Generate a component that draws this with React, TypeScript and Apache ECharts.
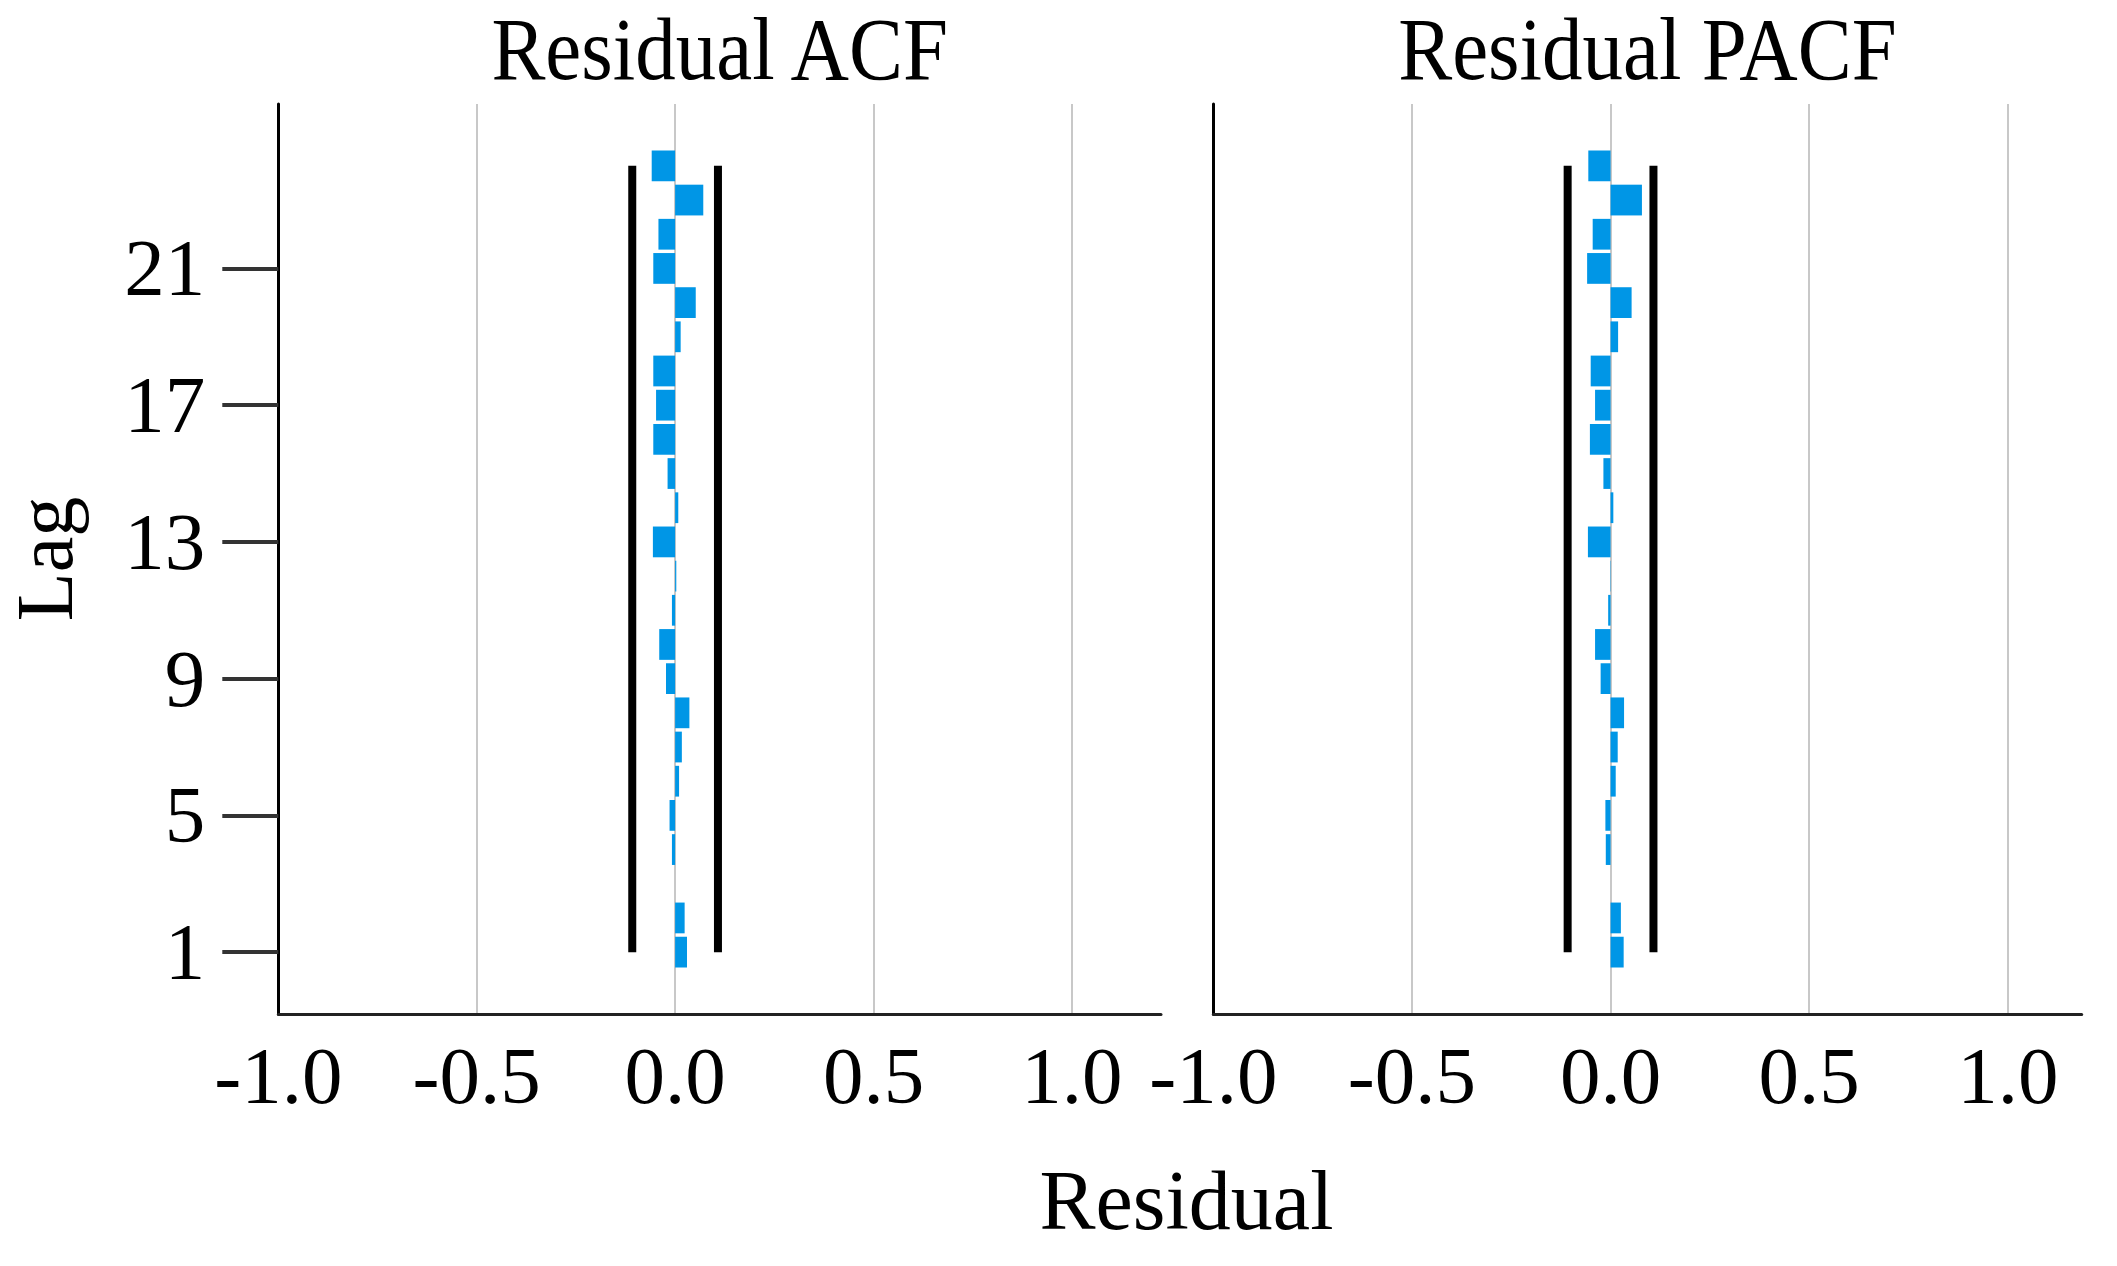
import React, { useEffect, useRef } from "react";
import * as echarts from "echarts";

const lags = [1, 2, 3, 4, 5, 6, 7, 8, 9, 10, 11, 12, 13, 14, 15, 16, 17, 18, 19, 20, 21, 22, 23, 24];
const acfValues = [0.030, 0.024, 0.0, -0.008, -0.014, 0.010, 0.017, 0.036, -0.023, -0.040, -0.008, 0.003, -0.056, 0.008, -0.019, -0.055, -0.048, -0.055, 0.014, 0.052, -0.055, -0.042, 0.071, -0.059];
const pacfValues = [0.033, 0.026, 0.0, -0.012, -0.013, 0.013, 0.018, 0.034, -0.025, -0.039, -0.006, -0.001, -0.057, 0.007, -0.018, -0.052, -0.039, -0.050, 0.019, 0.053, -0.059, -0.045, 0.079, -0.056];
const confLimit = 0.108;
const xTicks = [-1.0, -0.5, 0.0, 0.5, 1.0];
const yTicks = [1, 5, 9, 13, 17, 21];
const panelTitles = ["Residual ACF", "Residual PACF"];
const xName = "Residual";
const yName = "Lag";

const FONT = '"Liberation Serif", "Times New Roman", serif';

export default function App() {
  const ref = useRef<HTMLDivElement>(null);
  useEffect(() => {
    document.body.style.margin = "0";
    const chart = echarts.init(ref.current!, null, { renderer: "svg" });

    const grids = [
      { left: 278.3, top: 104, width: 882.7, height: 910 },
      { left: 1213.3, top: 104, width: 868.4, height: 910 },
    ];
    const xMax = [1.2245, 1.186];

    const xAxes = grids.map((g, i) => ({
      type: "value",
      gridIndex: i,
      min: -1,
      max: xMax[i],
      interval: 0.5,
      axisLine: { show: true, onZero: false, lineStyle: { color: "#222", width: 3 } },
      axisTick: { show: false, customValues: xTicks },
      axisLabel: {
        customValues: xTicks,
        formatter: (v: number) => v.toFixed(1),
        fontFamily: FONT,
        fontSize: 81,
        color: "#000",
        margin: 21,
      },
      splitLine: { show: true, lineStyle: { color: "#c8c8c8", width: 2 } },
    }));

    const yAxes = grids.map((g, i) => ({
      type: "value",
      gridIndex: i,
      min: -0.81,
      max: 25.81,
      axisLine: { show: true, onZero: false, lineStyle: { color: "#000", width: 3 } },
      axisTick: {
        show: i === 0,
        customValues: yTicks,
        length: 56,
        lineStyle: { color: "#333", width: 4 },
      },
      axisLabel: {
        show: i === 0,
        customValues: yTicks,
        fontFamily: FONT,
        fontSize: 81,
        color: "#000",
        margin: 73,
        padding: [13, 0, 0, 0],
      },
      splitLine: { show: false },
    }));

    const renderBar = (params: any, api: any) => {
      const v = api.value(0);
      const lag = api.value(1);
      const p0 = api.coord([0, lag]);
      const p1 = api.coord([v, lag]);
      const h = api.size([0, 1])[1] * 0.9;
      return {
        type: "rect",
        shape: {
          x: Math.min(p0[0], p1[0]),
          y: p0[1] - h / 2,
          width: Math.abs(p1[0] - p0[0]),
          height: h,
        },
        style: { fill: "#0096e6" },
      };
    };

    const series: any[] = [];
    [acfValues, pacfValues].forEach((vals, i) => {
      series.push({
        type: "custom",
        xAxisIndex: i,
        yAxisIndex: i,
        renderItem: renderBar,
        encode: { x: 0, y: 1 },
        data: vals.map((v, k) => [v, lags[k]]),
        z: 3,
      });
      [-confLimit, confLimit].forEach((c) => {
        series.push({
          type: "line",
          xAxisIndex: i,
          yAxisIndex: i,
          symbol: "none",
          lineStyle: { color: "#000", width: 8, cap: "butt" },
          data: [
            [c, lags[0]],
            [c, lags[lags.length - 1]],
          ],
          z: 4,
        });
      });
    });

    const graphic: any[] = grids.map((g, i) => ({
      type: "text",
      x: g.left + g.width / 2,
      y: 49,
      scaleX: 0.92,
      style: {
        text: panelTitles[i],
        font: `88px ${FONT}`,
        fill: "#000",
        textAlign: "center",
        textVerticalAlign: "middle",
      },
    }));
    graphic.push({
      type: "text",
      x: 1186.5,
      y: 1200,
      style: {
        text: xName,
        font: `84px ${FONT}`,
        fill: "#000",
        textAlign: "center",
        textVerticalAlign: "middle",
      },
    });
    graphic.push({
      type: "text",
      x: 45,
      y: 559,
      rotation: Math.PI / 2,
      style: {
        text: yName,
        font: `80px ${FONT}`,
        fill: "#000",
        textAlign: "center",
        textVerticalAlign: "middle",
      },
    });

    chart.setOption({
      animation: false,
      backgroundColor: "#fff",
      grid: grids,
      xAxis: xAxes,
      yAxis: yAxes,
      series,
      graphic,
    });
    return () => chart.dispose();
  }, []);
  return <div ref={ref} style={{ width: 2117, height: 1266 }} />;
}
